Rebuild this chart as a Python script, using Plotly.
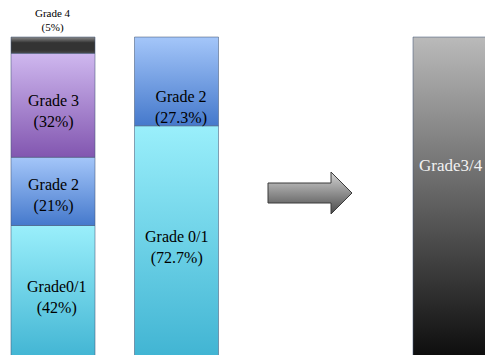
import plotly.graph_objects as go

# ---------------- data ----------------
bar_names = ["Present study", "Yoshida[13]", "Grade3/4 study"]
present_labels = ["Grade0/1", "Grade 2", "Grade 3", "Grade 4"]
present_values = [42, 21, 32, 5]
yoshida_labels = ["Grade 0/1", "Grade 2"]
yoshida_values = [72.7, 27.3]
other_labels = ["Grade3/4"]
other_values = [100]

# ---------------- style ----------------
bar_x = [53, 176.5, 455]
bar_w = 84
grad = {  # (bottom colour, top colour)
    "g01": ["#3fb3d2", "#9aeffb"],
    "g2": ["#4579cc", "#a4c6f9"],
    "g3": ["#8256b0", "#cfb8ef"],
    "g4": ["#2e2e2e", "#8c8c8c"],
    "g34": ["#0a0a0a", "#bababa"],
}
present_style = ["g01", "g2", "g3", "g4"]
yoshida_style = ["g01", "g2"]
other_style = ["g34"]
SERIF = "Liberation Serif"

fig = go.Figure()


def add_stack(xc, labels, values, styles):
    base = 0
    for lab, v, st in zip(labels, values, styles):
        x0, x1 = xc - bar_w / 2, xc + bar_w / 2
        y0, y1 = base, base + v
        bot, top = grad[st]
        if st == "g4":
            cs = [[0, "#4a4a4a"], [0.2, "#333333"], [0.65, "#333333"], [1, "#8a8a8a"]]
        else:
            cs = [[0, bot], [1, top]]
        fig.add_trace(go.Scatter(
            x=[x0, x1, x1, x0, x0], y=[y0, y0, y1, y1, y0],
            mode="lines", fill="toself",
            line=dict(color="rgba(70,90,120,0.55)", width=1),
            fillgradient=dict(type="vertical", colorscale=cs, start=y0, stop=y1),
            hoverinfo="skip", showlegend=False,
        ))
        base += v


add_stack(bar_x[0], present_labels, present_values, present_style)
add_stack(bar_x[1], yoshida_labels, yoshida_values, yoshida_style)
add_stack(bar_x[2], other_labels, other_values, other_style)

# ---------------- labels ----------------
def cum_mid(values):
    out, b = [], 0
    for v in values:
        out.append(b + v / 2)
        b += v
    return out

ann = []
pm = cum_mid(present_values)
p_shift = [(4, -4), (0, -4), (0, -6)]
for i in range(3):
    ann.append(dict(x=bar_x[0], y=pm[i], xshift=p_shift[i][0], yshift=p_shift[i][1],
                    text=f"{present_labels[i]}<br>({present_values[i]:g}%)",
                    font=dict(family=SERIF, size=16, color="black")))
ann.append(dict(x=bar_x[0], y=sum(present_values), yanchor="bottom", yshift=1,
                text=f"{present_labels[3]}<br>({present_values[3]:g}%)",
                font=dict(family=SERIF, size=11, color="black")))
ym = cum_mid(yoshida_values)
y_shift = [(0, -4), (4, -26)]
for i in range(2):
    ann.append(dict(x=bar_x[1], y=ym[i], xshift=y_shift[i][0], yshift=y_shift[i][1],
                    text=f"{yoshida_labels[i]}<br>({yoshida_values[i]:g}%)",
                    font=dict(family=SERIF, size=16, color="black")))
ann.append(dict(x=bar_x[1], y=0, yanchor="bottom", yshift=13,
                text=bar_names[1], font=dict(family=SERIF, size=16, color="black")))
ann.append(dict(x=bar_x[2], y=cum_mid(other_values)[0], xshift=-4, yshift=34,
                text=other_labels[0], font=dict(family=SERIF, size=17, color="#f2f2f2")))
for a in ann:
    a.setdefault("xanchor", "center")
    a.setdefault("yanchor", "middle")
    a["showarrow"] = False
    a["xref"] = "x"
    a["yref"] = "y"

# ---------------- decorative arrow (pixel overlay axes) ----------------
ax_ = [268, 331, 331, 352, 331, 331, 268, 268]
ay_ = [183, 183, 172, 193, 214, 203, 203, 183]
fig.add_trace(go.Scatter(
    x=ax_, y=ay_, xaxis="x2", yaxis="y2", mode="lines", fill="toself",
    line=dict(color="#3a3a3a", width=1),
    fillgradient=dict(type="vertical", colorscale=[[0, "#4a4a4a"], [1, "#d4d4d4"]],
                      start=214, stop=172),
    hoverinfo="skip", showlegend=False,
))

fig.update_layout(
    width=485, height=355,
    margin=dict(l=0, r=0, t=0, b=0),
    paper_bgcolor="white", plot_bgcolor="white",
    xaxis=dict(range=[0, 485], visible=False, fixedrange=True),
    yaxis=dict(range=[2.15, 111.4], visible=False, fixedrange=True),
    xaxis2=dict(range=[0, 485], visible=False, overlaying="x"),
    yaxis2=dict(range=[355, 0], visible=False, overlaying="y"),
    annotations=ann,
    showlegend=False,
)

fig.write_html("out.html")
